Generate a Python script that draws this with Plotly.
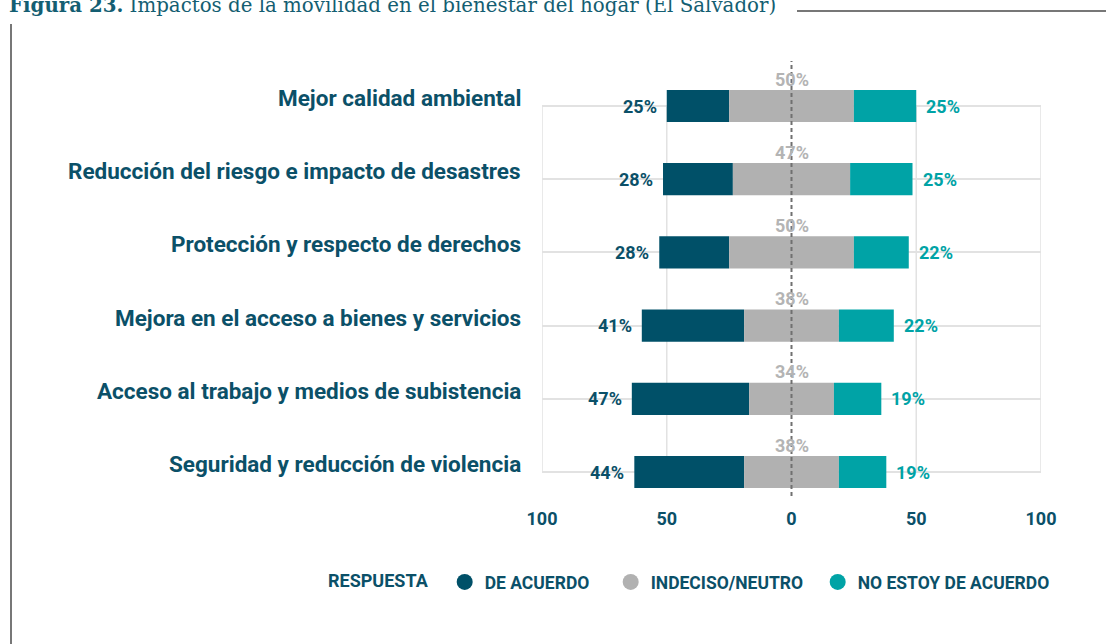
import plotly.graph_objects as go

# ---------------- data ----------------
categories = [
    "Mejor calidad ambiental",
    "Reducción del riesgo e impacto de desastres",
    "Protección y respecto de derechos",
    "Mejora en el acceso a bienes y servicios",
    "Acceso al trabajo y medios de subistencia",
    "Seguridad y reducción de violencia",
]
de_acuerdo = [25, 28, 28, 41, 47, 44]
neutro = [50, 47, 50, 38, 34, 38]
no_acuerdo = [25, 25, 22, 22, 19, 19]

series_names = ["DE ACUERDO", "INDECISO/NEUTRO", "NO ESTOY DE ACUERDO"]
tick_vals = [-100, -50, 0, 50, 100]
tick_text = ["100", "50", "0", "50", "100"]
title_bold = "Figura 23."
title_rest = " Impactos de la movilidad en el bienestar del hogar (El Salvador)"
legend_title = "RESPUESTA"

# ---------------- style ----------------
C_AGREE = "#005068"
C_NEUTRAL = "#b1b1b1"
C_DISAGREE = "#00a3a6"
C_TEXT = "#0b5068"
C_NEUTRAL_TXT = "#b4b4b4"
FONT = "Roboto"

W, H = 1106, 644
ML, MR, MT, MB = 542, 65, 61, 148
PW = W - ML - MR
PH = H - MT - MB


def px2x(px):
    return (px - ML) / PW


def py2y(py):
    return (H - MB - py) / PH


neutral_base = [-n / 2 for n in neutro]
agree_base = [-n / 2 - a for n, a in zip(neutro, de_acuerdo)]
disagree_base = [n / 2 for n in neutro]

legend_widths = [121, 162, None]

fig = go.Figure()
bar_w = 0.44
for name, vals, base, col, lw in [
    (series_names[0], de_acuerdo, agree_base, C_AGREE, legend_widths[0]),
    (series_names[1], neutro, neutral_base, C_NEUTRAL, legend_widths[1]),
    (series_names[2], no_acuerdo, disagree_base, C_DISAGREE, legend_widths[2]),
]:
    fig.add_trace(go.Bar(
        y=categories, x=vals, base=base, orientation="h", name=name,
        marker=dict(color=col, line=dict(width=0)), width=bar_w,
        showlegend=False, legendgroup=name, hoverinfo="skip",
    ))
    sc = go.Scatter(
        x=[None], y=[None], mode="markers", name=name, legendgroup=name,
        marker=dict(color=col, size=16, symbol="circle"),
    )
    if lw:
        sc.legendwidth = lw
    fig.add_trace(sc)

annotations = []
for cat, a, n, d, ab in zip(categories, de_acuerdo, neutro, no_acuerdo, agree_base):
    annotations.append(dict(
        x=px2x(523), xref="paper", y=cat, yref="y", text=cat, showarrow=False,
        xanchor="right", yanchor="middle", yshift=8,
        font=dict(family=FONT, size=22.5, color=C_TEXT, weight="bold"),
    ))
    annotations.append(dict(
        x=ab, y=cat, text=f"{a}%", showarrow=False, xanchor="right",
        yanchor="middle", xshift=-8,
        font=dict(family=FONT, size=18, color=C_TEXT, weight="bold"),
    ))
    annotations.append(dict(
        x=n / 2 + d, y=cat, text=f"{d}%", showarrow=False, xanchor="left",
        yanchor="middle", xshift=8,
        font=dict(family=FONT, size=18, color=C_DISAGREE, weight="bold"),
    ))
    annotations.append(dict(
        x=0, y=cat, text=f"{n}%", showarrow=False, xanchor="center",
        yanchor="middle", yshift=27,
        font=dict(family=FONT, size=18, color=C_NEUTRAL_TXT, weight="bold"),
    ))

annotations.append(dict(
    x=px2x(7), xref="paper", y=py2y(5), yref="paper",
    text=f"<b>{title_bold}</b>{title_rest}", showarrow=False,
    xanchor="left", yanchor="middle",
    font=dict(family="DejaVu Serif", size=19.8, color="#145e72"),
))

shapes = []
for v in tick_vals:
    if v == 0:
        continue
    shapes.append(dict(type="line", xref="x", yref="y", x0=v, x1=v,
                       y0=categories[0], y1=categories[-1], layer="below",
                       line=dict(color="#e2e2e2", width=1.5)))
shapes.append(dict(type="line", xref="x", yref="paper", x0=0, x1=0, y0=0, y1=1,
                   layer="above", line=dict(color="#707070", width=2, dash="4px,3px")))
shapes.append(dict(type="line", xref="paper", yref="paper",
                   x0=px2x(797), x1=px2x(1106), y0=py2y(11), y1=py2y(11),
                   line=dict(color="#777777", width=2)))
shapes.append(dict(type="line", xref="paper", yref="paper",
                   x0=px2x(11), x1=px2x(11), y0=py2y(24), y1=py2y(650),
                   line=dict(color="#777777", width=2)))

row_gap = 73.2
top_off = (106 - MT) / row_gap
bot_off = (H - MB - 472) / row_gap

fig.update_layout(
    width=W, height=H,
    margin=dict(l=ML, r=MR, t=MT, b=MB, pad=0),
    paper_bgcolor="white", plot_bgcolor="white",
    barmode="overlay",
    showlegend=True,
    legend=dict(
        orientation="h", x=px2x(326), xanchor="left", y=py2y(582), yanchor="middle",
        title=dict(text=legend_title + "\u00a0\u00a0", side="left",
                   font=dict(family=FONT, size=18, color=C_TEXT, weight="bold")),
        font=dict(family=FONT, size=17.5, color=C_TEXT, weight="bold"),
        itemsizing="trace", traceorder="normal",
    ),
    xaxis=dict(
        range=[-100, 100], tickvals=tick_vals, ticktext=tick_text,
        showgrid=False, zeroline=False, showline=False, ticks="",
        tickfont=dict(family=FONT, size=18, color=C_TEXT, weight="bold"),
        ticklabelstandoff=10, fixedrange=True,
    ),
    yaxis=dict(
        type="category", categoryorder="array", categoryarray=categories,
        range=[len(categories) - 1 + bot_off, -top_off],
        showgrid=True, gridcolor="#e2e2e2", gridwidth=1.5,
        showticklabels=False, zeroline=False, showline=False, ticks="",
        fixedrange=True,
    ),
    annotations=annotations,
    shapes=shapes,
)

fig.write_html(
    "out.html",
    config={"displayModeBar": False},
    post_script="document.body.style.margin='0';document.body.style.overflow='hidden';",
)
